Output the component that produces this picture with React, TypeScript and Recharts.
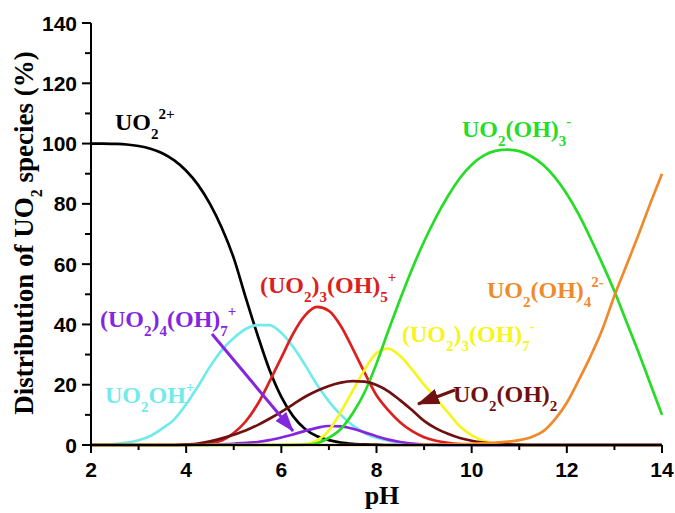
import { LineChart, Line, XAxis, YAxis } from "recharts";

// pH grid shared by every species
const PH = [
  2, 2.25, 2.5, 2.75, 3, 3.25, 3.5, 3.75, 4, 4.25, 4.5, 4.75, 5, 5.25, 5.5, 5.75,
  6, 6.25, 6.5, 6.75, 7, 7.25, 7.5, 7.75, 8, 8.25, 8.5, 8.75, 9, 9.25, 9.5, 9.75,
  10, 10.25, 10.5, 10.75, 11, 11.25, 11.5, 11.75, 12, 12.25, 12.5, 12.75, 13,
  13.25, 13.5, 13.75, 14,
];

// distribution (%)
const UO2 = [
  100, 100, 99.9, 99.7, 99.2, 98.3, 96.8, 94.4, 91, 86.3, 80, 72, 62, 49, 36.5,
  25, 16, 9.5, 5.3, 2.9, 1.6, 0.8, 0.4, 0.2, 0.1, 0, 0, 0, 0, 0, 0, 0, 0, 0, 0,
  0, 0, 0, 0, 0, 0, 0, 0, 0, 0, 0, 0, 0, 0,
];
const UO2OH = [
  0, 0.1, 0.3, 0.8, 1.6, 3, 5.5, 8.5, 13.5, 19.5, 26, 31.5, 35.5, 38.5, 39.8,
  39.8, 37.2, 32.5, 26.5, 20, 14.5, 10, 6.5, 4, 2.4, 1.4, 0.8, 0.4, 0.2, 0.1, 0,
  0, 0, 0, 0, 0, 0, 0, 0, 0, 0, 0, 0, 0, 0, 0, 0, 0, 0,
];
const TRIMER5 = [
  0, 0, 0, 0, 0, 0, 0, 0, 0, 0.2, 0.6, 1.5, 4, 7.8, 13.5, 21, 29, 37, 43, 45.8,
  44.5, 39.5, 32, 24, 16.5, 11.5, 7.5, 4.6, 2.6, 1.4, 0.7, 0.3, 0.1, 0, 0, 0, 0,
  0, 0, 0, 0, 0, 0, 0, 0, 0, 0, 0, 0,
];
const TETRAMER7 = [
  0, 0, 0, 0, 0, 0, 0, 0, 0, 0, 0.1, 0.2, 0.4, 0.7, 1, 1.6, 2.5, 3.5, 4.7, 5.7,
  6.3, 6.2, 5.4, 4.2, 2.9, 1.8, 1, 0.5, 0.2, 0.1, 0, 0, 0, 0, 0, 0, 0, 0, 0, 0, 0,
  0, 0, 0, 0, 0, 0, 0, 0,
];
const TRIMER7 = [
  0, 0, 0, 0, 0, 0, 0, 0, 0, 0, 0, 0, 0, 0, 0, 0, 0, 0.1, 0.3, 1.5, 4.8, 11, 18,
  25, 30.5, 32, 29.5, 25, 20, 15.5, 10.8, 6.2, 3.2, 1.4, 0.5, 0.2, 0.1, 0, 0, 0,
  0, 0, 0, 0, 0, 0, 0, 0, 0,
];
const UO2OH3 = [
  0, 0, 0, 0, 0, 0, 0, 0, 0, 0, 0, 0, 0, 0, 0, 0, 0, 0, 0.1, 0.6, 2.4, 5.3, 10.5,
  17.5, 27, 38, 48.5, 58.5, 67.5, 75.5, 82.5, 88.5, 93, 96, 97.6, 98, 97.5, 95.8,
  93, 88.8, 83.3, 76.5, 68.5, 60, 51, 41, 31, 20.5, 10,
];
const UO2OH2 = [
  0, 0, 0, 0, 0, 0, 0, 0, 0.2, 0.5, 1.2, 2.2, 3.4, 4.8, 6.6, 8.7, 11, 13.5, 16,
  18, 19.6, 20.7, 21.2, 21, 19.9, 17.8, 14.8, 11.5, 8, 5.5, 3.7, 2.3, 1.4, 0.8,
  0.4, 0.2, 0.1, 0, 0, 0, 0, 0, 0, 0, 0, 0, 0, 0, 0,
];
const UO2OH4 = [
  0, 0, 0, 0, 0, 0, 0, 0, 0, 0, 0, 0, 0, 0, 0, 0, 0, 0, 0, 0, 0, 0, 0, 0, 0, 0, 0,
  0, 0.1, 0.1, 0.2, 0.3, 0.4, 0.6, 0.8, 1.1, 1.6, 2.6, 4.5, 8.5, 14, 21.5, 29.5,
  38.5, 49.5, 59.5, 69.5, 80, 90,
];

const X_TICKS = [2, 3, 4, 5, 6, 7, 8, 9, 10, 11, 12, 13, 14];
const Y_TICKS = [0, 10, 20, 30, 40, 50, 60, 70, 80, 90, 100, 110, 120, 130, 140];

const SERIES = [
  { key: "uo2", values: UO2, color: "#000000" },
  { key: "uo2oh", values: UO2OH, color: "#72eaea" },
  { key: "trimer5", values: TRIMER5, color: "#dc2020" },
  { key: "tetramer7", values: TETRAMER7, color: "#8425e0" },
  { key: "trimer7", values: TRIMER7, color: "#f5f520" },
  { key: "uo2oh3", values: UO2OH3, color: "#26dc26" },
  { key: "uo2oh2", values: UO2OH2, color: "#701010" },
  { key: "uo2oh4", values: UO2OH4, color: "#ef8a2c" },
];

const rows = PH.map((ph, i) => {
  const r: Record<string, number> = { ph };
  SERIES.forEach((s) => (r[s.key] = s.values[i]));
  return r;
});

const SANS = "Arial, 'Liberation Sans', sans-serif";
const SERIF = "'Times New Roman', 'Liberation Serif', serif";

type Part = [string, "n" | "b" | "p"];

function Formula({ x, y, color, parts, size = 24 }: { x: number; y: number; color: string; parts: Part[]; size?: number }) {
  let cur = 0;
  return (
    <text x={x} y={y} fill={color} fontFamily={SERIF} fontWeight="bold" fontSize={size}>
      {parts.map(([t, k], i) => {
        const target = k === "b" ? 9 : k === "p" ? -11 : 0;
        const dy = target - cur;
        cur = target;
        return (
          <tspan key={i} dy={dy} fontSize={k === "n" ? size : 15}>
            {t}
          </tspan>
        );
      })}
    </text>
  );
}

const XTick = ({ x, y, payload }: any) => {
  const v = payload.value;
  const major = v % 2 === 0;
  return (
    <g>
      <line x1={x} x2={x} y1={y} y2={y + (major ? 8 : 5)} stroke="#000" strokeWidth={2} />
      {major && (
        <text x={x} y={y + 32} textAnchor="middle" fontFamily={SANS} fontWeight="bold" fontSize={21} fill="#000">
          {v}
        </text>
      )}
    </g>
  );
};

const YTick = ({ x, y, payload }: any) => {
  const v = payload.value;
  const major = v % 20 === 0;
  return (
    <g>
      <line x1={x - (major ? 9 : 6)} x2={x} y1={y} y2={y} stroke="#000" strokeWidth={2} />
      {major && (
        <text x={x - 14} y={y} dy="0.36em" textAnchor="end" fontFamily={SANS} fontWeight="bold" fontSize={21} fill="#000">
          {v}
        </text>
      )}
    </g>
  );
};

export default function App() {
  return (
    <div style={{ position: "relative", width: 675, height: 513, background: "#fff" }}>
      <style>{"body{margin:0}"}</style>
      <LineChart width={675} height={513} data={rows} margin={{ top: 23, right: 13, left: 0, bottom: 0 }}>
        <XAxis
          dataKey="ph"
          type="number"
          domain={[2, 14]}
          ticks={X_TICKS}
          interval={0}
          tickSize={0}
          tickMargin={0}
          tick={<XTick />}
          tickLine={false}
          height={68}
          axisLine={{ stroke: "#000", strokeWidth: 2 }}
        />
        <XAxis
          xAxisId="top"
          orientation="top"
          type="number"
          domain={[2, 14]}
          height={0}
          tick={false}
          tickLine={false}
          axisLine={{ stroke: "#000", strokeWidth: 2 }}
        />
        <YAxis
          type="number"
          domain={[0, 140]}
          ticks={Y_TICKS}
          interval={0}
          tickSize={0}
          tickMargin={0}
          tick={<YTick />}
          tickLine={false}
          width={91}
          axisLine={{ stroke: "#000", strokeWidth: 2 }}
        />
        <YAxis
          yAxisId="right"
          orientation="right"
          type="number"
          domain={[0, 140]}
          width={0}
          tick={false}
          tickLine={false}
          axisLine={{ stroke: "#000", strokeWidth: 2 }}
        />
        {SERIES.map((s) => (
          <Line
            key={s.key}
            dataKey={s.key}
            type="monotone"
            stroke={s.color}
            strokeWidth={2.7}
            dot={false}
            activeDot={false}
            isAnimationActive={false}
          />
        ))}
      </LineChart>

      <svg width={675} height={513} style={{ position: "absolute", left: 0, top: 0, pointerEvents: "none" }}>
        <defs>
          <marker id="headPurple" markerUnits="userSpaceOnUse" markerWidth={20} markerHeight={14} refX={19} refY={7} orient="auto">
            <path d="M0,0 L20,7 L0,14 z" fill="#8425e0" />
          </marker>
          <marker id="headBrown" markerUnits="userSpaceOnUse" markerWidth={22} markerHeight={16} refX={21} refY={8} orient="auto">
            <path d="M0,0 L22,8 L0,16 z" fill="#701010" />
          </marker>
        </defs>

        {/* y axis title */}
        <text
          x={33}
          y={233}
          transform="rotate(-90 33 233)"
          textAnchor="middle"
          fontFamily={SERIF}
          fontWeight="bold"
          fontSize={27}
          fill="#000"
        >
          <tspan>Distribution of UO</tspan>
          <tspan dy={9} fontSize={16}>2</tspan>
          <tspan dy={-9}> species (%)</tspan>
        </text>
        <text x={382} y={504} textAnchor="middle" fontFamily={SERIF} fontWeight="bold" fontSize={26} fill="#000">
          pH
        </text>

        <Formula x={115} y={130} color="#000" parts={[["UO", "n"], ["2", "b"], ["2+", "p"]]} />
        <Formula x={462} y={137} color="#26dc26" parts={[["UO", "n"], ["2", "b"], ["(OH)", "n"], ["3", "b"], ["-", "p"]]} />
        <Formula
          x={260}
          y={293}
          color="#dc2020"
          parts={[["(UO", "n"], ["2", "b"], [")", "n"], ["3", "b"], ["(OH)", "n"], ["5", "b"], ["+", "p"]]}
        />
        <Formula
          x={100}
          y={327}
          color="#8425e0"
          parts={[["(UO", "n"], ["2", "b"], [")", "n"], ["4", "b"], ["(OH)", "n"], ["7", "b"], ["+", "p"]]}
        />
        <Formula x={105} y={403} color="#72eaea" parts={[["UO", "n"], ["2", "b"], ["OH", "n"], ["+", "p"]]} />
        <Formula
          x={402}
          y={342}
          color="#f5f520"
          parts={[["(UO", "n"], ["2", "b"], [")", "n"], ["3", "b"], ["(OH)", "n"], ["7", "b"], ["-", "p"]]}
        />
        <Formula x={487} y={298} color="#ef8a2c" parts={[["UO", "n"], ["2", "b"], ["(OH)", "n"], ["4", "b"], ["2-", "p"]]} />
        <Formula x={453} y={402} color="#701010" parts={[["UO", "n"], ["2", "b"], ["(OH)", "n"], ["2", "b"]]} />

        {/* arrows */}
        <line x1={212} y1={334} x2={293} y2={431} stroke="#8425e0" strokeWidth={3} markerEnd="url(#headPurple)" />
        <line x1={455} y1={390} x2={418} y2={404} stroke="#701010" strokeWidth={3} markerEnd="url(#headBrown)" />
      </svg>
    </div>
  );
}
